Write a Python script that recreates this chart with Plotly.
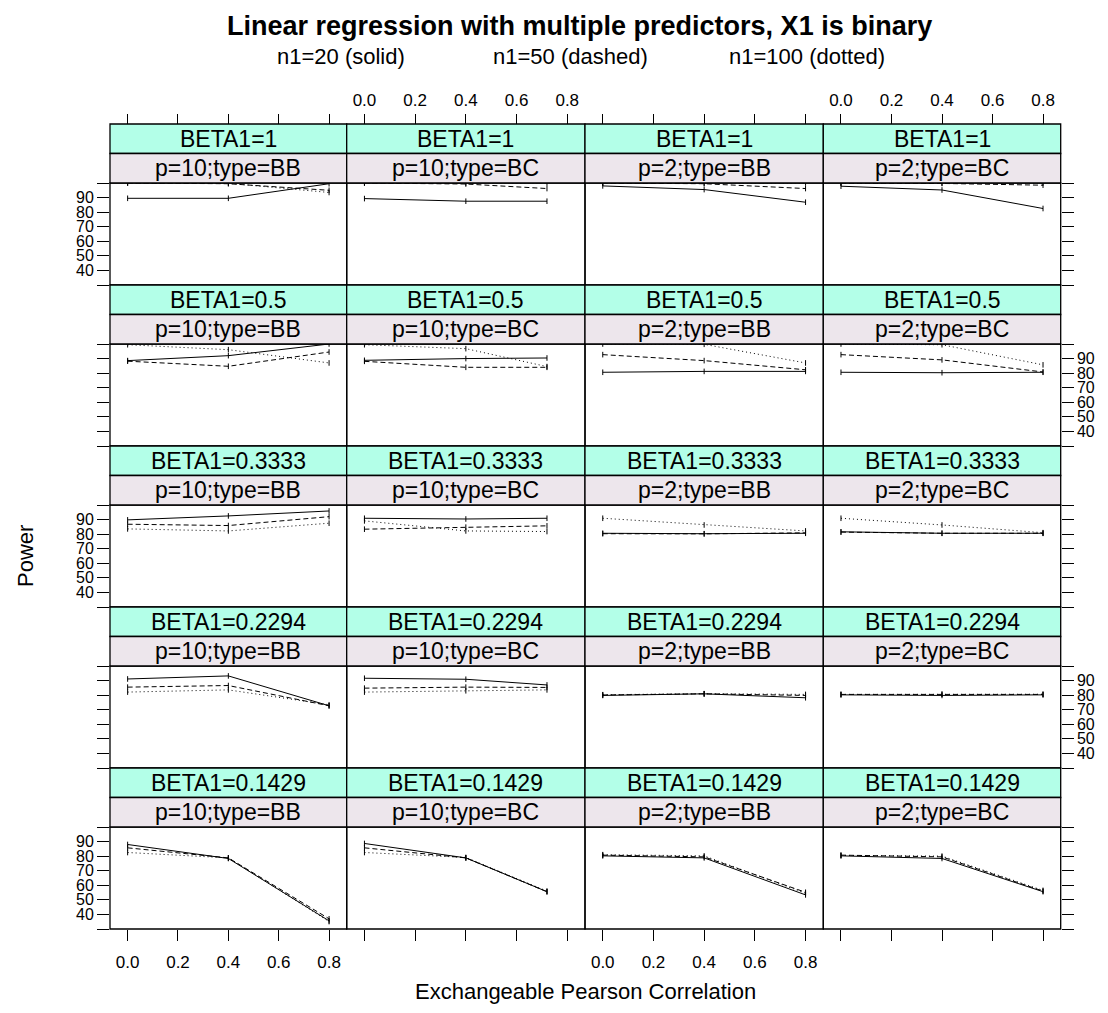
import plotly.graph_objects as go

# ---------------- data ----------------
beta_levels = ["1", "0.5", "0.3333", "0.2294", "0.1429"]
panel_keys = ["p=10;type=BB", "p=10;type=BC", "p=2;type=BB", "p=2;type=BC"]
rho_p10_BB = [0.0, 0.4, 0.8]
rho_p10_BC = [0.0, 0.4, 0.72]
rho_p2_BB = [0.0, 0.4, 0.8]
rho_p2_BC = [0.0, 0.4, 0.8]
x_tick_vals = [0.0, 0.2, 0.4, 0.6, 0.8]
x_tick_labels = ["0.0", "0.2", "0.4", "0.6", "0.8"]
y_tick_vals = [30, 40, 50, 60, 70, 80, 90, 100]
y_tick_labels = ["", "40", "50", "60", "70", "80", "90", ""]
series_names = ["n1=20 (solid)", "n1=50 (dashed)", "n1=100 (dotted)"]

# power[beta][panel][rho]
power_n20 = [
    [[89.5, 89.5, 99.5], [89.3, 87.5, 87.5], [98.0, 95.5, 86.8], [97.8, 95.2, 82.5]],
    [[88.6, 92.0, 100.0], [88.8, 90.0, 90.4], [80.6, 81.2, 81.2], [80.6, 80.3, 80.6]],
    [[89.8, 92.5, 95.9], [90.9, 90.4, 90.9], [80.6, 80.3, 80.6], [81.6, 80.6, 80.6]],
    [[91.1, 93.2, 72.7], [91.6, 90.9, 87.0], [79.8, 80.9, 78.2], [80.2, 79.8, 80.2]],
    [[88.0, 78.4, 35.6], [88.7, 78.8, 55.6], [80.2, 78.8, 53.4], [80.2, 78.4, 55.6]],
]
power_n50 = [
    [[100.0, 99.5, 95.0], [100.0, 99.3, 96.2], [100.0, 99.5, 96.2], [100.0, 99.7, 98.5]],
    [[88.2, 84.7, 94.5], [88.1, 84.0, 84.0], [92.7, 88.6, 82.3], [92.7, 89.1, 80.8]],
    [[86.8, 85.9, 92.0], [83.4, 84.8, 85.7], [80.3, 80.2, 80.9], [81.4, 80.6, 80.6]],
    [[85.5, 86.6, 72.7], [84.8, 85.5, 85.3], [80.1, 80.9, 79.8], [80.5, 80.6, 80.5]],
    [[85.7, 78.8, 37.0], [85.7, 78.8, 55.6], [80.7, 79.5, 55.2], [80.7, 79.5, 56.0]],
]
power_n100 = [
    [[100.0, 99.8, 93.5], [100.0, 100.0, 100.0], [100.0, 100.0, 100.0], [100.0, 100.0, 100.0]],
    [[99.5, 96.1, 87.0], [99.5, 96.8, 84.5], [100.0, 99.8, 87.0], [100.0, 99.5, 85.7]],
    [[83.6, 82.2, 87.5], [89.1, 82.2, 81.8], [90.9, 86.3, 82.2], [90.9, 86.3, 81.0]],
    [[82.1, 83.6, 73.4], [82.1, 83.0, 83.6], [80.3, 81.0, 80.5], [80.5, 80.6, 80.6]],
    [[82.5, 78.8, 35.1], [82.5, 79.1, 56.0], [81.0, 80.2, 54.5], [80.5, 80.0, 56.5]],
]

# ---------------- layout geometry (window pixel coordinates) ----------------
OFF = 8                      # page body margin
FW, FH = 1092, 997           # figure size
col_edges = [110, 346.7, 585, 823.3, 1060.7]
panel_tops = [183, 344, 505, 666, 827]
panel_h = 102
strip_h = 29.5
FONT = "Liberation Sans, Arial, sans-serif"
strip_cols = ["#b3ffe8", "#ede6ec"]
XTICK_FS = 17
YTICK_FS = 16


def px(x):
    return (x - OFF) / FW


def py(y):
    return 1 - (y - OFF) / FH


rhos = [rho_p10_BB, rho_p10_BC, rho_p2_BB, rho_p2_BC]
series = [(power_n20, "solid"), (power_n50, "5px,3px"), (power_n100, "1px,3px")]

fig = go.Figure()
layout_axes = {}
shapes = []
annotations = []

for r in range(5):
    top = panel_tops[r]
    for c in range(4):
        k = r * 4 + c + 1
        xname = "x" if k == 1 else f"x{k}"
        yname = "y" if k == 1 else f"y{k}"
        for data, dash in series:
            fig.add_trace(go.Scatter(
                x=rhos[c], y=data[r][c], mode="lines+markers",
                line=dict(color="black", width=1, dash=dash),
                marker=dict(symbol="line-ns", size=4, color="black",
                            line=dict(width=1, color="black")),
                xaxis=xname, yaxis=yname, showlegend=False, hoverinfo="skip"))

        xa = dict(domain=[px(col_edges[c]), px(col_edges[c + 1])],
                  range=[-0.07, 0.87], showgrid=False, zeroline=False,
                  tickvals=x_tick_vals, ticktext=x_tick_labels,
                  ticks="", showticklabels=False, showline=False,
                  tickcolor="black", tickwidth=1,
                  tickfont=dict(family=FONT, size=XTICK_FS, color="black"),
                  anchor=yname)
        if r == 0:
            xa.update(anchor="free", position=py(top - 2 * strip_h), side="top",
                      ticks="outside", ticklen=10,
                      showticklabels=(c in (1, 3)), ticklabelstandoff=1)
        if r == 4:
            xa.update(side="bottom", ticks="outside", ticklen=11,
                      showticklabels=(c in (0, 2)), ticklabelstandoff=7)
        ya = dict(domain=[py(top + panel_h), py(top)], range=[30, 100],
                  tickvals=y_tick_vals, ticktext=y_tick_labels,
                  showgrid=False, zeroline=False, ticks="",
                  showticklabels=False, showline=False, anchor=xname,
                  tickcolor="black", tickwidth=1,
                  tickfont=dict(family=FONT, size=YTICK_FS, color="black"))
        if c == 0:
            ya.update(side="left", ticks="outside", ticklen=12,
                      showticklabels=(r % 2 == 0))
        if c == 3:
            ya.update(side="right", ticks="outside", ticklen=12,
                      showticklabels=(r % 2 == 1))
        layout_axes["xaxis" if k == 1 else f"xaxis{k}"] = xa
        layout_axes["yaxis" if k == 1 else f"yaxis{k}"] = ya

        x0, x1 = px(col_edges[c]), px(col_edges[c + 1])
        # panel border
        shapes.append(dict(type="rect", xref="paper", yref="paper",
                           x0=x0, x1=x1, y0=py(top + panel_h), y1=py(top),
                           line=dict(color="black", width=1.3)))
        # strips
        labels = [f"BETA1={beta_levels[r]}", panel_keys[c]]
        for s in range(2):
            s_top = top - (2 - s) * strip_h
            s_bot = s_top + strip_h
            shapes.append(dict(type="rect", xref="paper", yref="paper",
                               x0=x0, x1=x1, y0=py(s_bot), y1=py(s_top),
                               fillcolor=strip_cols[s],
                               line=dict(color="black", width=1.3)))
            annotations.append(dict(xref="paper", yref="paper",
                                    x=(x0 + x1) / 2, y=py((s_top + s_bot) / 2),
                                    text=labels[s], showarrow=False,
                                    xanchor="center", yanchor="middle",
                                    font=dict(family=FONT, size=23, color="black")))

# titles
annotations.append(dict(xref="paper", yref="paper", x=px(579), y=py(26),
                        text="<b>Linear regression with multiple predictors, X1 is binary</b>",
                        showarrow=False, xanchor="center", yanchor="middle",
                        font=dict(family=FONT, size=27, color="black")))
for name, cx in zip(series_names, [341, 570, 807]):
    annotations.append(dict(xref="paper", yref="paper", x=px(cx), y=py(56),
                            text=name, showarrow=False, xanchor="center",
                            yanchor="middle",
                            font=dict(family=FONT, size=22, color="black")))
annotations.append(dict(xref="paper", yref="paper", x=px(585), y=py(991),
                        text="Exchangeable Pearson Correlation", showarrow=False,
                        xanchor="center", yanchor="middle",
                        font=dict(family=FONT, size=22, color="black")))
annotations.append(dict(xref="paper", yref="paper", x=px(25), y=py(556),
                        text="Power", showarrow=False, textangle=-90,
                        xanchor="center", yanchor="middle",
                        font=dict(family=FONT, size=22, color="black")))

fig.update_layout(width=FW, height=FH, autosize=False,
                  margin=dict(l=0, r=0, t=0, b=0),
                  paper_bgcolor="white", plot_bgcolor="white",
                  shapes=shapes, annotations=annotations, **layout_axes)

fig.write_html("out.html")
